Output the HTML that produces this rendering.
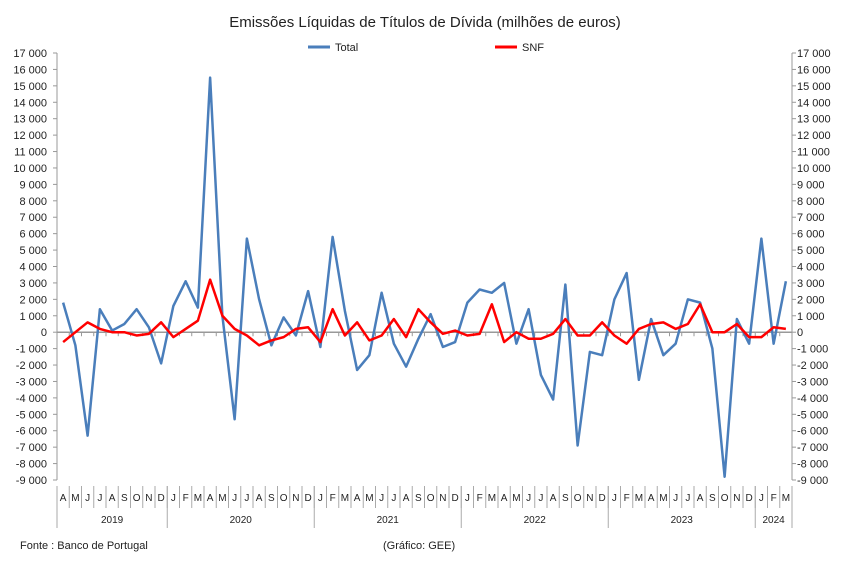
<!DOCTYPE html>
<html><head><meta charset="utf-8"><style>
body{margin:0;background:#fff;font-family:"Liberation Sans",sans-serif}
svg text{font-family:"Liberation Sans",sans-serif}
</style></head><body>
<svg id="c" width="850" height="560" xmlns="http://www.w3.org/2000/svg">
<text x="425" y="27" font-size="15" text-anchor="middle" fill="#222">Emissões Líquidas de Títulos de Dívida (milhões de euros)</text>
<g>
<line x1="308" y1="47" x2="330" y2="47" stroke="#4a7ebb" stroke-width="3"/>
<text x="335" y="51" font-size="11" fill="#222">Total</text>
<line x1="495" y1="47" x2="517" y2="47" stroke="#ff0000" stroke-width="3"/>
<text x="522" y="51" font-size="11" fill="#222">SNF</text>
</g>
<g id="axes"></g>
<g id="series"></g>
<text x="20" y="549" font-size="11" fill="#222">Fonte : Banco de Portugal</text>
<text x="383" y="549" font-size="11" fill="#222">(Gráfico: GEE)</text>
</svg>
<script>
const months=["A","M","J","J","A","S","O","N","D","J","F","M","A","M","J","J","A","S","O","N","D","J","F","M","A","M","J","J","A","S","O","N","D","J","F","M","A","M","J","J","A","S","O","N","D","J","F","M","A","M","J","J","A","S","O","N","D","J","F","M"];
const years=["2019","2020","2021","2022","2023","2024"];
const yearCounts=[9,12,12,12,12,3];
const totalValues=[1800,-800,-6300,1400,100,500,1400,300,-1900,1600,3100,1500,15500,1000,-5300,5700,2000,-800,900,-200,2500,-900,5800,1300,-2300,-1400,2400,-700,-2100,-400,1100,-900,-600,1800,2600,2400,3000,-700,1400,-2600,-4100,2900,-6900,-1200,-1400,2000,3600,-2900,800,-1400,-700,2000,1800,-1000,-8800,800,-700,5700,-700,3100];
const snfValues=[-600,0,600,200,0,0,-200,-100,600,-300,200,700,3200,1000,200,-200,-800,-500,-300,200,300,-600,1400,-200,600,-500,-200,800,-300,1400,600,-100,100,-200,-100,1700,-600,0,-400,-400,-100,800,-200,-200,600,-200,-700,200,500,600,200,500,1700,0,0,500,-300,-300,300,200];
const yTicks=[17000,16000,15000,14000,13000,12000,11000,10000,9000,8000,7000,6000,5000,4000,3000,2000,1000,0,-1000,-2000,-3000,-4000,-5000,-6000,-7000,-8000,-9000];

const NS="http://www.w3.org/2000/svg";
const X0=57,X1=792,Y0=53,Y1=480,YMAX=17000,YMIN=-9000;
const cw=(X1-X0)/months.length;
const xs=i=>X0+cw*(i+0.5);
const ys=v=>Y0+(YMAX-v)/(YMAX-YMIN)*(Y1-Y0);
function mk(t,a,p){const e=document.createElementNS(NS,t);for(const k in a)e.setAttribute(k,a[k]);p.appendChild(e);return e;}
const ax=document.getElementById('axes');
const fmt=v=>{const s=Math.abs(v).toString();const r=s.length>3?s.slice(0,-3)+" "+s.slice(-3):s;return (v<0?"-":"")+r;};
let l=mk('line',{x1:X0,y1:Y0,x2:X0,y2:Y1,stroke:'#999'},ax);


l=mk('line',{x1:X1,y1:Y0,x2:X1,y2:Y1,stroke:'#999'},ax);


yTicks.forEach(v=>{
  const y=ys(v);
  mk('line',{x1:X0-4,y1:y,x2:X0,y2:y,stroke:'#999'},ax);
  mk('line',{x1:X1,y1:y,x2:X1+4,y2:y,stroke:'#999'},ax);
  let t=mk('text',{x:X0-10,y:y+4,'font-size':11,'text-anchor':'end',fill:'#222'},ax);t.textContent=fmt(v);
  
  
  t=mk('text',{x:X1+5,y:y+4,'font-size':11,fill:'#222'},ax);t.textContent=fmt(v);
  
  
});
l=mk('line',{x1:X0,y1:ys(0),x2:X1,y2:ys(0),stroke:'#999','stroke-width':1.5},ax);


months.forEach((m,i)=>{
  const x=X0+cw*i;
  mk('line',{x1:x,y1:ys(0),x2:x,y2:ys(0)+4,stroke:'#999'},ax);
  mk('line',{x1:x,y1:486,x2:x,y2:508,stroke:'#aaa'},ax);
  const t=mk('text',{x:xs(i),y:501,'font-size':10,'text-anchor':'middle',fill:'#222'},ax);t.textContent=m;
  
  
});
let acc=0;
years.forEach((yv,k)=>{
  const xa=X0+cw*acc, xb=X0+cw*(acc+yearCounts[k]);
  mk('line',{x1:xa,y1:486,x2:xa,y2:528,stroke:'#aaa'},ax);
  const t=mk('text',{x:(xa+xb)/2,y:523,'font-size':10,'text-anchor':'middle',fill:'#222'},ax);t.textContent=yv;
  
  
  acc+=yearCounts[k];
});
mk('line',{x1:X1,y1:486,x2:X1,y2:528,stroke:'#aaa'},ax);
const sg=document.getElementById('series');
function line(vals,col,name){
  const p=mk('polyline',{points:vals.map((v,i)=>xs(i)+','+ys(v)).join(' '),fill:'none',stroke:col,'stroke-width':2.5,'stroke-linejoin':'round'},sg);
  
  
}
line(totalValues,'#4a7ebb','total-line');
line(snfValues,'#ff0000','snf-line');
</script>
</body></html>
